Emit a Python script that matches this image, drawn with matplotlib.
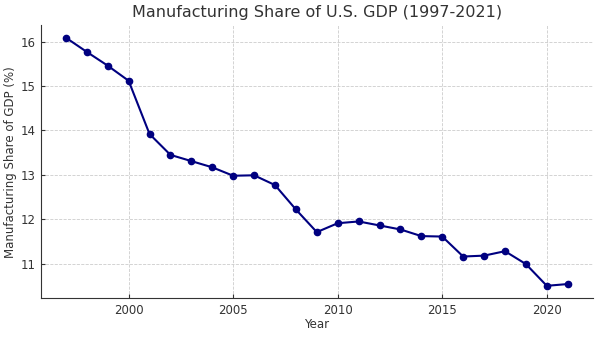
import numpy as np
import matplotlib.pyplot as plt

years = [1997, 1998, 1999, 2000, 2001, 2002, 2003, 2004, 2005, 2006, 2007,
         2008, 2009, 2010, 2011, 2012, 2013, 2014, 2015, 2016, 2017, 2018,
         2019, 2020, 2021]
share = [16.09, 15.77, 15.46, 15.12, 13.92, 13.45, 13.31, 13.17, 12.98, 12.99,
         12.77, 12.22, 11.71, 11.91, 11.95, 11.86, 11.77, 11.62, 11.61, 11.16,
         11.18, 11.28, 10.99, 10.50, 10.54]

txt = '#333333'
fig, ax = plt.subplots(figsize=(6, 3.37), dpi=100)
ax.plot(years, share, color='navy', marker='o', markersize=4.5, linewidth=1.5)

ax.set_title('Manufacturing Share of U.S. GDP (1997-2021)', fontsize=11.5, color=txt, pad=6)
ax.set_xlabel('Year', fontsize=8.5, color=txt, labelpad=1)
ax.set_ylabel('Manufacturing Share of GDP (%)', fontsize=8.5, color=txt, labelpad=2)
ax.set_xticks([2000, 2005, 2010, 2015, 2020])
ax.set_yticks([11, 12, 13, 14, 15, 16])
ax.tick_params(direction='in', length=3, width=0.8, color=txt,
               labelsize=8.5, labelcolor=txt, pad=4)
ax.grid(True, linestyle='--', linewidth=0.6, color='#cccccc')
ax.spines['top'].set_visible(False)
ax.spines['right'].set_visible(False)
for s in ['left', 'bottom']:
    ax.spines[s].set_color(txt)
ax.set_xlim(1995.8, 2022.2)
ax.set_ylim(10.22, 16.37)

plt.subplots_adjust(left=0.068, right=0.988, top=0.925, bottom=0.115)
plt.savefig('out.png')
